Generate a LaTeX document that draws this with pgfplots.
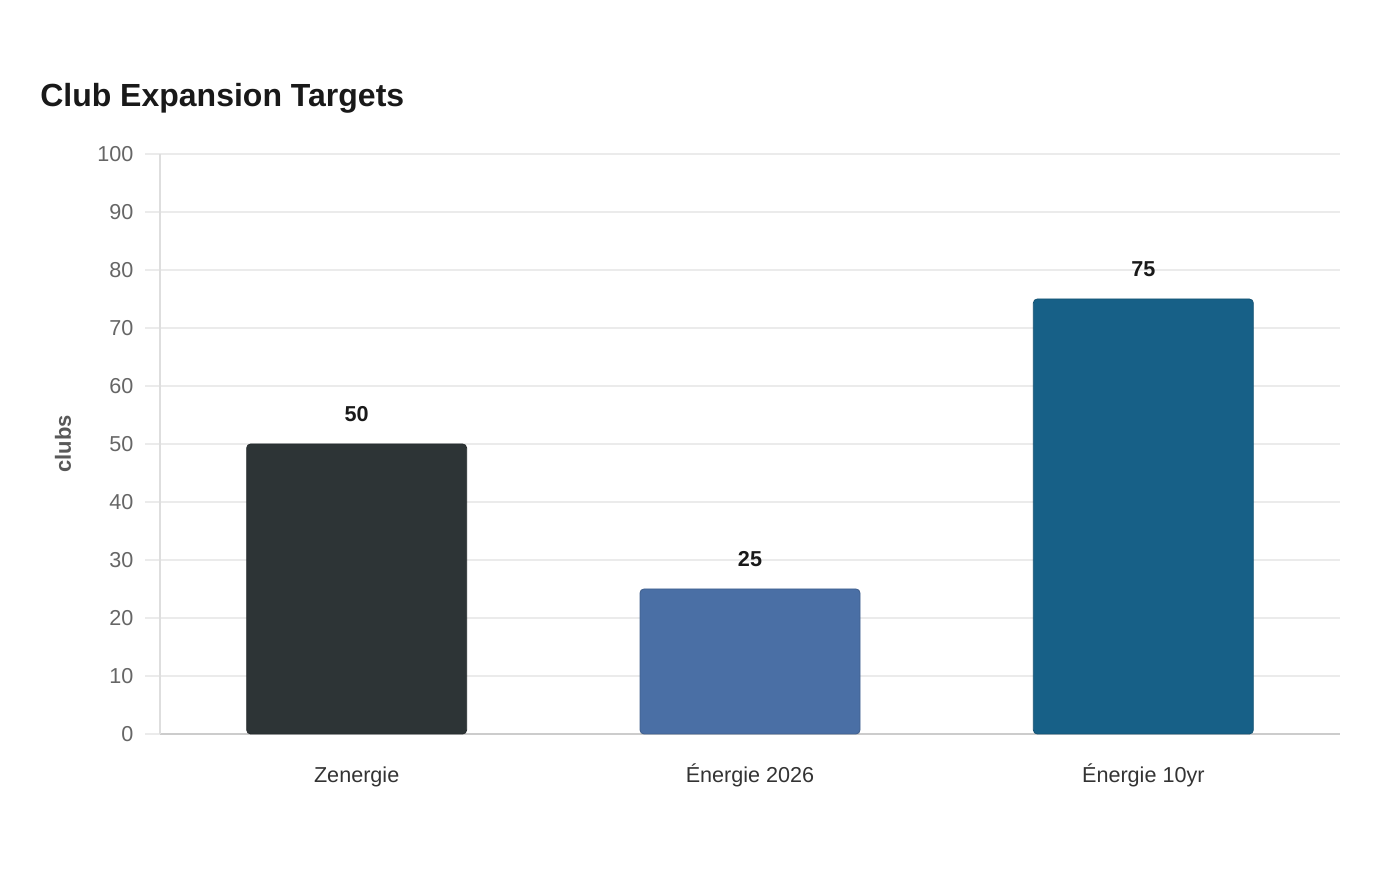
\documentclass[border=0pt]{standalone}
\usepackage{pgfplots}
\pgfplotsset{compat=1.18}
\usepackage{fontspec}
\setmainfont{Liberation Sans}

\definecolor{barA}{HTML}{2D3436}
\definecolor{barB}{HTML}{4A6FA5}
\definecolor{barC}{HTML}{176087}
\definecolor{gridc}{HTML}{EBEBEB}
\definecolor{tickc}{HTML}{666666}
\definecolor{labc}{HTML}{333333}

\begin{document}
\begin{tikzpicture}
\path[use as bounding box] (0,0) rectangle (1050pt,660pt);
\node[anchor=base west, inner sep=0pt, text=black!90, font=\fontsize{24}{28}\selectfont\bfseries]
  at (30pt,580pt) {Club Expansion Targets};
\begin{axis}[
  at={(120pt,109.5pt)}, anchor=south west,
  scale only axis, width=885pt, height=435pt,
  xmin=-0.5, xmax=2.5, ymin=0, ymax=100,
  xtick={0,1,2},
  xticklabels={Zenergie, Énergie 2026, Énergie 10yr},
  ytick={0,10,...,100},
  /pgf/number format/assume math mode=true,
  tick label style={font=\fontsize{16.2}{19}\selectfont},
  yticklabel style={text=tickc, xshift=-5.25pt},
  xticklabel style={text=labc, anchor=base, yshift=-25.5pt},
  ymajorgrids, grid style={gridc, line width=1.5pt},
  tick align=outside, major tick length=11.25pt,
  ytick style={gridc, line width=1.5pt},
  xtick style={draw=none},
  axis x line*=bottom, axis y line*=left,
  x axis line style={draw=black!20, line width=1.2pt, -},
  y axis line style={draw=black!13, line width=1.2pt, -},
  ylabel={clubs},
  ylabel style={at={(axis description cs:-0.0822,0.5)}, anchor=center,
    font=\fontsize{16.5}{19}\selectfont\bfseries, text=black!65},
  ybar, bar width=165pt, bar shift=0pt,
  nodes near coords,
  nodes near coords style={anchor=center, yshift=22.5pt,
    font=\fontsize{16.2}{19}\selectfont\bfseries, text=black!90,
    /pgf/number format/assume math mode=true},
  clip=false,
]
\addplot[fill=barA, draw=barA!85!black, line width=0.6pt, rounded corners=3pt] coordinates {(0,50)};
\addplot[fill=barB, draw=barB!85!black, line width=0.6pt, rounded corners=3pt] coordinates {(1,25)};
\addplot[fill=barC, draw=barC!85!black, line width=0.6pt, rounded corners=3pt] coordinates {(2,75)};
\end{axis}
\end{tikzpicture}
\end{document}
